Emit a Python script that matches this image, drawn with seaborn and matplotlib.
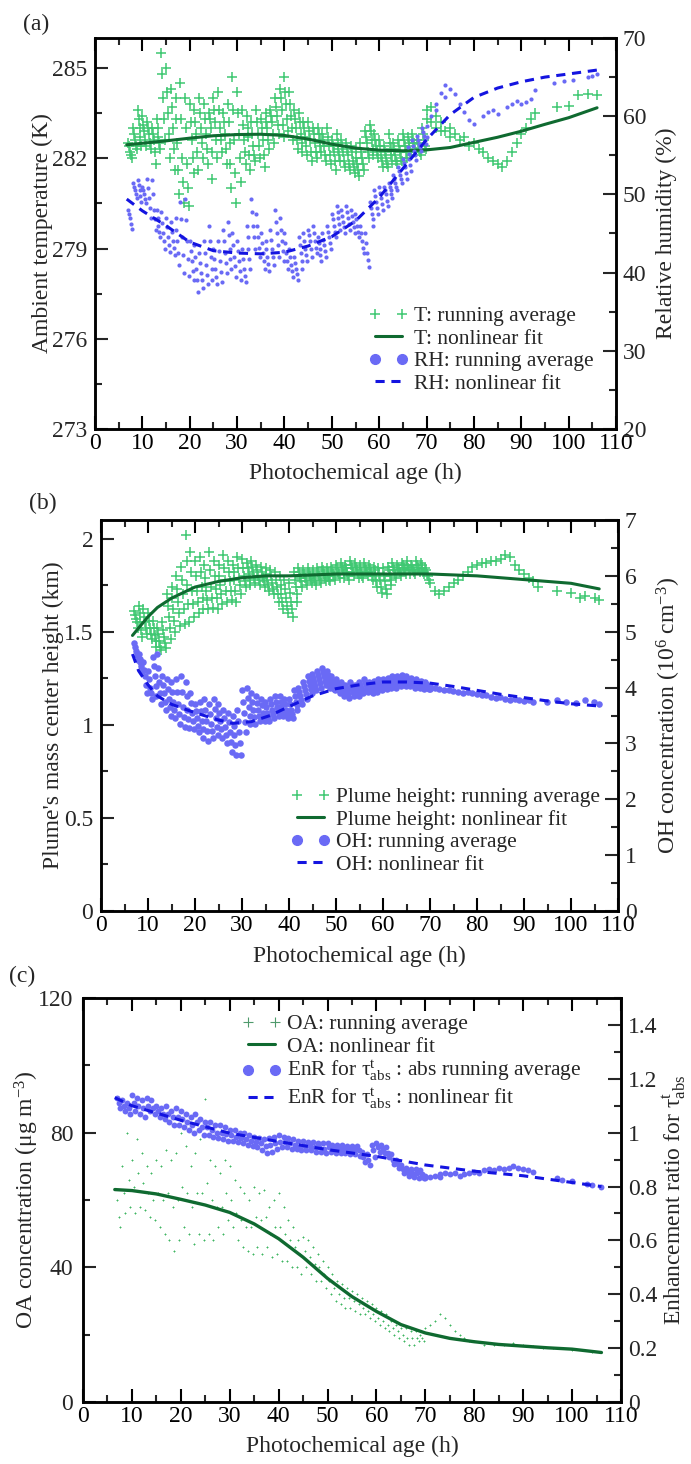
import numpy as np
import pandas as pd
import matplotlib
matplotlib.use("Agg")
import matplotlib.pyplot as plt
import seaborn as sns
from matplotlib.lines import Line2D
from matplotlib.ticker import MultipleLocator, FuncFormatter

sns.set_style("ticks")
plt.rcParams["font.family"] = ["Liberation Serif", "DejaVu Serif"]
plt.rcParams["mathtext.fontset"] = "custom"
plt.rcParams["mathtext.rm"] = "Liberation Serif"
plt.rcParams["mathtext.it"] = "Liberation Serif:italic"
plt.rcParams["mathtext.bf"] = "Liberation Serif:bold"

# ---------------------------------------------------------------- data
# hourly bins (photochemical age, h) of the running averages, from high to low values
HOURS = list(range(7, 70))

T_hi = [282.5, 283.0, 283.6, 283.4, 283.2, 283.0, 283.3, 285.5, 285.0, 284.3,
        284.0, 284.5, 284.0, 283.8, 283.6, 284.0, 283.8, 283.5, 284.0, 284.2,
        283.5, 283.8, 284.7, 284.2, 283.6, 283.4, 283.2, 283.6, 283.3, 283.5,
        283.6, 284.0, 284.3, 284.7, 284.2, 283.6, 283.5, 283.2, 283.2, 283.0,
        283.0, 282.8, 283.0, 282.6, 282.8, 282.6, 282.5, 282.4, 282.3, 282.5,
        282.9, 283.1, 282.8, 282.6, 282.4, 282.8, 282.5, 282.6, 282.8, 282.7,
        282.8, 282.6, 283.0]
T_q1 = [282.4, 282.8, 283.3, 283.1, 283.0, 282.8, 283.0, 284.8, 284.2, 283.7,
        283.3, 283.3, 283.0, 283.2, 283.2, 283.5, 283.3, 283.3, 283.6, 283.6,
        283.2, 283.2, 283.6, 283.5, 283.1, 283.0, 282.8, 283.2, 283.0, 283.2,
        283.4, 283.7, 284.0, 284.2, 283.8, 283.3, 283.2, 283.0, 282.9, 282.8,
        282.8, 282.6, 282.7, 282.4, 282.5, 282.4, 282.3, 282.2, 282.0, 282.2,
        282.7, 282.9, 282.6, 282.4, 282.2, 282.5, 282.3, 282.4, 282.6, 282.5,
        282.6, 282.5, 282.8]
T_mid = [282.2, 282.6, 283.0, 282.9, 282.8, 282.6, 282.7, 284.0, 283.5, 283.0,
         282.5, 282.0, 281.8, 282.6, 282.8, 283.0, 282.8, 283.0, 283.2, 283.0,
         282.8, 282.5, 282.6, 282.8, 282.6, 282.7, 282.4, 282.8, 282.6, 283.0,
         283.2, 283.4, 283.6, 283.8, 283.4, 283.0, 282.8, 282.7, 282.6, 282.5,
         282.6, 282.4, 282.4, 282.2, 282.3, 282.2, 282.1, 281.9, 281.8, 282.0,
         282.5, 282.6, 282.4, 282.1, 282.0, 282.3, 282.1, 282.2, 282.4, 282.4,
         282.5, 282.3, 282.6]
T_q3 = [282.1, 282.4, 282.7, 282.6, 282.5, 282.2, 282.5, 283.3, 282.8, 282.3,
        281.6, 281.2, 281.0, 282.0, 282.2, 282.5, 282.3, 282.2, 282.6, 282.6,
        282.3, 281.8, 281.5, 282.0, 282.2, 282.1, 282.1, 282.4, 282.1, 282.6,
        282.8, 283.1, 283.1, 283.3, 283.0, 282.6, 282.5, 282.4, 282.2, 282.2,
        282.4, 282.1, 282.1, 281.9, 282.1, 281.9, 281.8, 281.7, 281.6, 281.8,
        282.2, 282.3, 282.2, 281.9, 281.8, 282.1, 281.9, 282.0, 282.2, 282.2,
        282.3, 282.2, 282.4]
T_lo = [282.0, 282.3, 282.4, 282.4, 282.3, 281.8, 282.3, 282.6, 282.0, 281.6,
        280.8, 280.5, 280.4, 281.5, 281.6, 282.0, 281.8, 281.3, 282.0, 282.2,
        281.8, 281.0, 280.5, 281.2, 281.8, 281.6, 281.9, 282.0, 281.7, 282.3,
        282.5, 282.8, 282.7, 282.9, 282.6, 282.3, 282.2, 282.1, 281.9, 282.0,
        282.2, 281.9, 281.8, 281.6, 281.9, 281.7, 281.6, 281.5, 281.4, 281.6,
        282.0, 282.1, 282.0, 281.7, 281.7, 281.9, 281.8, 281.9, 282.0, 282.1,
        282.2, 282.1, 282.3]
T_tail_age = [70, 70, 71, 71, 72, 72, 73, 73, 74, 75, 75, 76, 77, 78, 79, 80, 81,
              82, 83, 84, 85, 86, 87, 88, 89, 90, 91, 92, 93, 97.5, 100, 102, 104, 106]
T_tail = [283.3, 283.6, 283.7, 283.2, 283.4, 283.0, 283.2, 282.9, 282.9, 283.0,
          282.7, 282.8, 282.6, 282.7, 282.4, 282.5, 282.3, 282.2, 282.0, 281.9,
          281.8, 281.7, 281.9, 282.2, 282.5, 282.8, 283.0, 283.3, 283.5, 283.7,
          283.75, 284.1, 284.15, 284.1]

RH_hi = [48.0, 51.5, 51.9, 51.0, 52.0, 51.9, 48.0, 47.7, 47.0, 46.5,
         47.0, 49.0, 49.4, 44.0, 43.5, 42.5, 44.0, 46.0, 43.0, 44.0,
         45.5, 46.5, 45.0, 44.0, 43.0, 46.0, 49.4, 47.5, 45.0, 44.0,
         45.5, 48.0, 47.0, 45.0, 43.0, 42.0, 44.5, 45.0, 45.5, 46.0,
         44.5, 45.0, 46.0, 47.5, 48.5, 48.0, 48.5, 48.0, 47.5, 46.0,
         45.0, 49.0, 50.5, 51.0, 51.0, 51.5, 52.5, 53.5, 54.5, 56.0,
         57.0, 57.5, 58.5]
RH_q1 = [47.5, 51.0, 51.2, 50.5, 50.8, 50.0, 47.0, 46.3, 45.8, 45.2,
         45.5, 46.8, 46.7, 42.8, 42.0, 41.2, 42.5, 44.0, 41.8, 42.8,
         44.0, 44.8, 43.5, 42.8, 41.8, 44.5, 47.7, 46.0, 43.8, 43.0,
         44.2, 46.5, 45.5, 43.8, 42.0, 41.2, 43.5, 44.0, 44.8, 45.0,
         43.8, 44.2, 45.2, 46.8, 47.8, 47.2, 47.8, 47.2, 46.8, 45.0,
         43.8, 48.2, 49.8, 50.2, 50.5, 51.0, 52.0, 53.0, 54.0, 55.2,
         56.2, 57.0, 58.0]
RH_mid = [47.0, 50.5, 50.5, 50.0, 49.5, 48.0, 46.0, 45.0, 44.5, 44.0,
          44.0, 44.5, 44.0, 41.5, 40.5, 40.0, 41.0, 42.0, 40.5, 41.5,
          42.5, 43.0, 42.0, 41.5, 40.5, 43.0, 46.0, 44.5, 42.5, 42.0,
          43.0, 45.0, 44.0, 42.5, 41.0, 40.5, 42.5, 43.0, 44.0, 44.0,
          43.0, 43.5, 44.5, 46.0, 47.0, 46.5, 47.0, 46.5, 46.0, 44.0,
          42.5, 47.5, 49.0, 49.5, 50.0, 50.5, 51.5, 52.5, 53.5, 54.5,
          55.5, 56.5, 57.5]
RH_q3 = [46.2, 50.0, 49.8, 49.4, 48.2, 46.8, 45.2, 44.0, 43.5, 43.1,
         42.5, 42.2, 41.8, 40.2, 39.0, 39.0, 39.7, 40.5, 39.5, 40.1,
         41.2, 41.8, 40.8, 40.2, 39.6, 41.8, 44.5, 43.2, 41.5, 41.1,
         42.0, 43.5, 42.8, 41.5, 40.2, 39.8, 41.5, 42.2, 43.0, 43.2,
         42.2, 42.8, 43.8, 45.2, 46.2, 45.8, 46.2, 45.8, 45.2, 43.2,
         41.6, 46.8, 48.2, 48.8, 49.2, 50.0, 51.0, 52.0, 52.8, 53.8,
         55.0, 56.0, 57.0]
RH_lo = [45.6, 49.5, 49.0, 48.9, 47.0, 45.5, 44.5, 43.0, 42.6, 42.2,
         41.0, 40.0, 39.6, 39.0, 37.5, 38.0, 38.5, 39.0, 38.5, 38.8,
         40.0, 40.5, 39.5, 39.0, 38.8, 40.5, 43.0, 42.0, 40.5, 40.2,
         41.0, 42.0, 41.5, 40.5, 39.5, 39.0, 40.5, 41.5, 42.0, 42.5,
         41.5, 42.0, 43.0, 44.5, 45.5, 45.0, 45.5, 45.0, 44.5, 42.5,
         40.7, 46.0, 47.5, 48.0, 48.5, 49.5, 50.5, 51.5, 52.0, 53.0,
         54.4, 55.5, 56.5]
RH_tail_age = [70, 70, 71, 72, 72, 73, 74, 74, 75, 76, 77, 78, 79, 80, 82, 83,
               84, 85, 87, 88, 89, 90, 91, 92, 93, 97, 99, 101, 104, 105, 106]
RH_tail = [58.7, 57.4, 60.0, 61.6, 60.8, 63.0, 64.0, 62.5, 63.5, 62.9, 61.5,
           60.5, 59.5, 59.0, 60.0, 60.5, 60.8, 60.3, 61.2, 61.6, 62.0, 61.5,
           61.8, 62.2, 63.3, 64.2, 64.5, 64.6, 65.0, 65.2, 65.4]

PH_hi = [1.61, 1.64, 1.62, 1.60, 1.56, 1.52, 1.55, 1.70, 1.74, 1.80,
         1.85, 2.02, 1.93, 1.88, 1.90, 1.86, 1.93, 1.88, 1.86, 1.91,
         1.88, 1.86, 1.90, 1.89, 1.87, 1.88, 1.86, 1.85, 1.84, 1.83,
         1.82, 1.80, 1.78, 1.76, 1.82, 1.84, 1.83, 1.84, 1.83, 1.84,
         1.85, 1.84, 1.85, 1.86, 1.87, 1.86, 1.88, 1.87, 1.86, 1.87,
         1.86, 1.85, 1.84, 1.84, 1.85, 1.87, 1.86, 1.87, 1.88, 1.86,
         1.88, 1.87, 1.84]
PH_q1 = [1.59, 1.60, 1.58, 1.56, 1.52, 1.49, 1.51, 1.64, 1.68, 1.73,
         1.78, 1.88, 1.82, 1.80, 1.82, 1.79, 1.83, 1.80, 1.80, 1.84,
         1.82, 1.82, 1.84, 1.84, 1.84, 1.85, 1.83, 1.82, 1.81, 1.80,
         1.78, 1.75, 1.73, 1.71, 1.78, 1.82, 1.81, 1.82, 1.81, 1.82,
         1.83, 1.82, 1.83, 1.84, 1.85, 1.84, 1.86, 1.85, 1.84, 1.85,
         1.84, 1.83, 1.81, 1.80, 1.83, 1.85, 1.84, 1.86, 1.86, 1.85,
         1.86, 1.86, 1.83]
PH_mid = [1.57, 1.55, 1.55, 1.52, 1.48, 1.45, 1.47, 1.58, 1.62, 1.66,
          1.70, 1.75, 1.72, 1.72, 1.74, 1.72, 1.74, 1.73, 1.75, 1.78,
          1.77, 1.78, 1.79, 1.80, 1.81, 1.82, 1.80, 1.79, 1.78, 1.76,
          1.74, 1.70, 1.68, 1.66, 1.74, 1.79, 1.79, 1.80, 1.79, 1.80,
          1.81, 1.80, 1.81, 1.82, 1.83, 1.82, 1.84, 1.83, 1.82, 1.83,
          1.82, 1.80, 1.78, 1.77, 1.80, 1.83, 1.83, 1.84, 1.84, 1.83,
          1.84, 1.84, 1.81]
PH_q3 = [1.55, 1.51, 1.52, 1.49, 1.45, 1.42, 1.44, 1.52, 1.56, 1.60,
         1.62, 1.65, 1.65, 1.66, 1.68, 1.67, 1.68, 1.68, 1.70, 1.72,
         1.72, 1.72, 1.75, 1.77, 1.78, 1.79, 1.78, 1.77, 1.75, 1.73,
         1.70, 1.66, 1.64, 1.62, 1.70, 1.77, 1.77, 1.78, 1.77, 1.78,
         1.79, 1.78, 1.80, 1.81, 1.81, 1.80, 1.82, 1.81, 1.80, 1.82,
         1.80, 1.77, 1.74, 1.73, 1.78, 1.81, 1.82, 1.83, 1.83, 1.82,
         1.83, 1.82, 1.80]
PH_lo = [1.52, 1.47, 1.49, 1.46, 1.42, 1.40, 1.41, 1.46, 1.50, 1.53,
         1.54, 1.55, 1.58, 1.60, 1.62, 1.62, 1.63, 1.62, 1.65, 1.66,
         1.67, 1.66, 1.70, 1.74, 1.75, 1.76, 1.75, 1.74, 1.72, 1.70,
         1.66, 1.62, 1.60, 1.58, 1.66, 1.74, 1.75, 1.76, 1.75, 1.76,
         1.77, 1.77, 1.78, 1.79, 1.79, 1.78, 1.80, 1.79, 1.79, 1.80,
         1.78, 1.74, 1.71, 1.70, 1.75, 1.79, 1.80, 1.81, 1.81, 1.81,
         1.82, 1.81, 1.78]
PH_tail_age = [70, 71, 72, 73, 74, 75, 76, 77, 78, 79, 80, 81, 82, 83, 84, 85,
               86, 87, 88, 89, 90, 91, 92, 93, 97, 100, 102, 103, 105, 106]
PH_tail = [1.76, 1.72, 1.70, 1.72, 1.74, 1.76, 1.78, 1.80, 1.82, 1.85, 1.86,
           1.87, 1.87, 1.88, 1.88, 1.89, 1.91, 1.90, 1.86, 1.83, 1.81, 1.79,
           1.77, 1.74, 1.72, 1.71, 1.68, 1.69, 1.68, 1.67]

OH_hi = [4.80, 4.60, 4.45, 4.30, 4.55, 4.60, 4.20, 4.15, 4.10, 4.15,
         4.20, 4.10, 3.90, 3.70, 3.75, 3.80, 3.70, 3.80, 3.70, 3.60,
         3.55, 3.50, 3.60, 3.95, 4.00, 3.90, 3.85, 3.80, 3.75, 3.80,
         3.85, 3.85, 3.80, 3.80, 3.95, 4.00, 4.10, 4.20, 4.25, 4.30,
         4.35, 4.30, 4.20, 4.15, 4.10, 4.05, 4.10, 4.05, 4.10, 4.15,
         4.10, 4.12, 4.15, 4.15, 4.18, 4.20, 4.20, 4.22, 4.20, 4.18,
         4.15, 4.12, 4.10]
OH_q1 = [4.72, 4.52, 4.32, 4.15, 4.38, 4.35, 4.05, 3.98, 3.92, 3.92,
         3.92, 3.85, 3.72, 3.58, 3.58, 3.60, 3.52, 3.62, 3.55, 3.45,
         3.38, 3.32, 3.40, 3.75, 3.82, 3.75, 3.72, 3.68, 3.65, 3.70,
         3.75, 3.75, 3.70, 3.70, 3.85, 3.92, 4.02, 4.12, 4.18, 4.22,
         4.28, 4.22, 4.12, 4.08, 4.04, 4.00, 4.04, 4.00, 4.05, 4.10,
         4.05, 4.07, 4.10, 4.10, 4.13, 4.15, 4.16, 4.17, 4.15, 4.14,
         4.12, 4.08, 4.06]
OH_mid = [4.65, 4.45, 4.20, 4.00, 4.20, 4.10, 3.90, 3.80, 3.75, 3.70,
          3.65, 3.60, 3.55, 3.45, 3.40, 3.40, 3.35, 3.45, 3.40, 3.30,
          3.20, 3.15, 3.20, 3.55, 3.65, 3.60, 3.60, 3.55, 3.55, 3.60,
          3.65, 3.65, 3.60, 3.60, 3.75, 3.85, 3.95, 4.05, 4.10, 4.15,
          4.20, 4.15, 4.05, 4.00, 3.98, 3.95, 3.98, 3.95, 4.00, 4.05,
          4.00, 4.02, 4.05, 4.05, 4.08, 4.10, 4.12, 4.12, 4.10, 4.10,
          4.08, 4.05, 4.03]
OH_q3 = [4.58, 4.38, 4.05, 3.90, 4.02, 3.90, 3.75, 3.65, 3.60, 3.52,
         3.48, 3.43, 3.40, 3.32, 3.25, 3.22, 3.22, 3.30, 3.25, 3.15,
         3.02, 2.98, 3.00, 3.38, 3.50, 3.48, 3.50, 3.48, 3.48, 3.52,
         3.58, 3.58, 3.52, 3.52, 3.68, 3.78, 3.88, 3.98, 4.02, 4.08,
         4.12, 4.08, 3.98, 3.95, 3.92, 3.88, 3.92, 3.90, 3.95, 3.98,
         3.95, 3.97, 4.00, 4.02, 4.04, 4.05, 4.07, 4.07, 4.06, 4.05,
         4.04, 4.02, 4.00]
OH_lo = [4.50, 4.30, 3.90, 3.80, 3.85, 3.70, 3.60, 3.50, 3.45, 3.35,
         3.30, 3.27, 3.25, 3.20, 3.10, 3.05, 3.10, 3.15, 3.10, 3.00,
         2.85, 2.80, 2.80, 3.20, 3.35, 3.35, 3.40, 3.40, 3.40, 3.45,
         3.50, 3.50, 3.45, 3.45, 3.60, 3.70, 3.80, 3.90, 3.95, 4.00,
         4.05, 4.00, 3.95, 3.90, 3.85, 3.82, 3.85, 3.85, 3.90, 3.92,
         3.90, 3.92, 3.95, 3.98, 4.00, 4.00, 4.02, 4.02, 4.02, 4.00,
         4.00, 3.98, 3.97]
OH_tail_age = [70, 70, 71, 72, 73, 74, 75, 76, 77, 78, 79, 80, 81, 82, 83, 84,
               85, 86, 87, 88, 89, 90, 91, 92, 95, 97, 99, 101, 103, 105, 106]
OH_tail = [4.03, 3.98, 4.00, 3.98, 3.95, 3.96, 3.93, 3.92, 3.90, 3.92, 3.90,
           3.88, 3.87, 3.86, 3.84, 3.82, 3.84, 3.80, 3.78, 3.80, 3.78, 3.76,
           3.78, 3.75, 3.74, 3.77, 3.75, 3.72, 3.78, 3.74, 3.70]

OA_hi = [60, 70, 80, 72, 78, 74, 70, 68, 72, 70,
         75, 72, 74, 80, 76, 70, 74, 78, 90, 72,
         70, 68, 72, 70, 66, 64, 62, 60, 64, 62,
         63, 58, 60, 62, 58, 54, 52, 48, 49, 48,
         46, 44, 42, 40, 38, 36, 35, 34, 33, 32,
         31, 30, 29, 28, 27, 26, 24, 23, 22, 22,
         21, 21, 20]
OA_mid = [55, 62, 66, 64, 68, 65, 62, 60, 62, 60,
          62, 58, 60, 64, 62, 58, 62, 62, 65, 60,
          58, 58, 62, 60, 56, 54, 52, 52, 55, 54,
          55, 50, 52, 52, 50, 48, 46, 44, 45, 43,
          41, 40, 38, 36, 34, 32, 31, 31, 30, 29,
          28, 27, 26, 25, 24, 23, 22, 21, 20, 19,
          19, 19, 19]
OA_lo = [52, 56, 58, 56, 58, 57, 55, 54, 52, 50,
         48, 45, 48, 52, 50, 47, 50, 48, 50, 48,
         52, 50, 54, 52, 48, 46, 45, 44, 46, 44,
         46, 43, 44, 42, 42, 40, 40, 38, 40, 38,
         36, 36, 34, 32, 30, 29, 28, 28, 27, 26,
         26, 25, 24, 23, 22, 21, 20, 19, 18, 17,
         17, 18, 18]
OA_tail_age = [70, 71, 72, 73, 74, 75, 76, 77, 78, 79, 80, 82, 84, 86, 88, 90,
               92, 94, 96, 98, 100, 102, 104]
OA_tail = [22, 23, 24, 26, 25, 23, 21, 20, 19, 18, 18, 17, 17, 17, 17.5, 17,
           16.5, 16, 16, 16, 15.5, 15.5, 15]

EN_hi = [1.13, 1.12, 1.11, 1.14, 1.13, 1.12, 1.13, 1.12, 1.10, 1.09,
         1.10, 1.08, 1.09, 1.08, 1.07, 1.06, 1.07, 1.05, 1.04, 1.04,
         1.03, 1.03, 1.02, 1.01, 1.01, 1.00, 1.00, 0.99, 0.985, 0.98,
         0.975, 0.98, 0.985, 0.99, 0.985, 0.98, 0.975, 0.97, 0.97, 0.965,
         0.965, 0.96, 0.96, 0.96, 0.955, 0.955, 0.955, 0.95, 0.95, 0.95,
         0.93, 0.92, 0.955, 0.96, 0.955, 0.945, 0.92, 0.90, 0.88, 0.87,
         0.865, 0.865, 0.86]
EN_mid = [1.11, 1.10, 1.09, 1.11, 1.10, 1.09, 1.10, 1.09, 1.08, 1.07,
          1.07, 1.06, 1.06, 1.05, 1.04, 1.03, 1.04, 1.02, 1.02, 1.01,
          1.00, 1.00, 0.995, 0.99, 0.985, 0.98, 0.975, 0.97, 0.965, 0.96,
          0.95, 0.955, 0.96, 0.965, 0.965, 0.96, 0.955, 0.95, 0.95, 0.95,
          0.945, 0.945, 0.94, 0.945, 0.94, 0.94, 0.94, 0.935, 0.935, 0.935,
          0.91, 0.90, 0.935, 0.945, 0.94, 0.925, 0.90, 0.885, 0.865, 0.855,
          0.85, 0.85, 0.845]
EN_lo = [1.09, 1.08, 1.07, 1.08, 1.07, 1.06, 1.08, 1.07, 1.06, 1.05,
         1.04, 1.03, 1.03, 1.02, 1.01, 1.00, 1.01, 0.99, 0.99, 0.985,
         0.98, 0.975, 0.97, 0.97, 0.965, 0.96, 0.955, 0.95, 0.945, 0.935,
         0.925, 0.93, 0.94, 0.945, 0.945, 0.94, 0.94, 0.935, 0.935, 0.935,
         0.93, 0.93, 0.925, 0.93, 0.925, 0.925, 0.925, 0.92, 0.92, 0.915,
         0.89, 0.88, 0.91, 0.93, 0.925, 0.91, 0.885, 0.87, 0.85, 0.84,
         0.835, 0.83, 0.83]
EN_tail_age = [70, 70, 71, 72, 73, 73, 74, 75, 76, 77, 78, 79, 80, 81, 82, 83,
               84, 85, 86, 87, 88, 89, 90, 91, 92, 97, 98, 100, 103, 104, 106]
EN_tail = [0.84, 0.83, 0.835, 0.84, 0.845, 0.835, 0.85, 0.845, 0.85, 0.84,
           0.845, 0.85, 0.855, 0.85, 0.86, 0.865, 0.86, 0.87, 0.865, 0.87,
           0.875, 0.87, 0.865, 0.86, 0.855, 0.83, 0.825, 0.82, 0.81, 0.805, 0.80]

# nonlinear fits
T_FIT_AGE = [6.7, 10, 15, 20, 25, 30, 35, 40, 45, 50, 55, 60, 65, 70, 75, 80,
             85, 90, 95, 100, 106]
T_FIT = [282.45, 282.5, 282.58, 282.67, 282.75, 282.79, 282.8, 282.76, 282.64,
         282.47, 282.34, 282.27, 282.25, 282.28, 282.36, 282.53, 282.7, 282.9,
         283.13, 283.35, 283.68]
RH_FIT = [49.4, 47.9, 46.0, 43.9, 42.8, 42.5, 42.4, 42.6, 43.4, 44.6, 46.6,
          49.6, 53.3, 57.0, 60.2, 62.4, 63.6, 64.4, 65.0, 65.4, 65.9]
PH_FIT_AGE = [6.7, 8, 10, 12, 15, 20, 25, 30, 35, 40, 50, 60, 70, 80, 90, 95, 100, 106]
PH_FIT = [1.48, 1.52, 1.58, 1.63, 1.68, 1.74, 1.77, 1.79, 1.80, 1.80, 1.81,
          1.81, 1.81, 1.80, 1.78, 1.77, 1.76, 1.73]
OH_FIT_AGE = [6.7, 8, 10, 12, 15, 20, 25, 28, 32, 36, 40, 45, 50, 55, 60, 65,
              70, 75, 80, 85, 90, 95, 100, 106]
OH_FIT = [4.6, 4.3, 4.05, 3.85, 3.7, 3.55, 3.42, 3.36, 3.39, 3.5, 3.66, 3.85,
          3.98, 4.05, 4.1, 4.1, 4.08, 4.02, 3.95, 3.88, 3.82, 3.76, 3.71, 3.67]
OA_FIT_AGE = [6.5, 10, 15, 20, 25, 30, 35, 40, 45, 50, 55, 60, 65, 70, 75, 80,
              85, 90, 95, 100, 106]
OA_FIT = [63.1, 62.8, 61.8, 60.2, 58.5, 56.3, 52.9, 48.5, 43.0, 36.7, 31.3,
          26.9, 23.0, 20.5, 18.9, 17.9, 17.1, 16.6, 16.1, 15.7, 14.7]
EN_FIT_AGE = [6.5, 10, 20, 30, 40, 50, 60, 70, 80, 90, 100, 106]
EN_FIT = [1.13, 1.10, 1.046, 0.998, 0.967, 0.937, 0.912, 0.88, 0.857, 0.84,
          0.815, 0.80]

# ---------------------------------------------------------------- styling
C_T = "#3fc872"
C_TFIT = "#0f6a30"
C_RH = "#6a6af5"
C_RHFIT = "#1414e0"
C_OA = "#3fb561"
C_OALEG = "#4f9a6c"
FS_TICK = 17
FS_LAB = 17
FS_LEG = 15.5
DASH = (0, (3, 2.2))


def running_frame(rows, tail_age, tail_val):
    """Stack the hourly rows and the sparse tail into one long frame."""
    step = 1.0 / len(rows)
    ages, vals = [], []
    for k, row in enumerate(rows):
        ages += [h + step * k for h in HOURS]
        vals += list(row)
    ages += list(tail_age)
    vals += list(tail_val)
    return pd.DataFrame({"age": ages, "val": vals})


def style_pair(ax, ax2, ylim, ymaj, ymin, ylim2, y2maj, y2min, lpad=5.5):
    fmt = FuncFormatter(lambda v, p: f"{v:g}")
    ax.set_xlim(0, 110)
    ax.xaxis.set_major_locator(MultipleLocator(10))
    ax.xaxis.set_minor_locator(MultipleLocator(5))
    ax.set_ylim(*ylim)
    ax.yaxis.set_major_locator(MultipleLocator(ymaj))
    ax.yaxis.set_minor_locator(MultipleLocator(ymin))
    ax.yaxis.set_major_formatter(fmt)
    ax2.set_ylim(*ylim2)
    ax2.yaxis.set_major_locator(MultipleLocator(y2maj))
    ax2.yaxis.set_minor_locator(MultipleLocator(y2min))
    ax2.yaxis.set_major_formatter(fmt)
    for a in (ax, ax2):
        for sp in a.spines.values():
            sp.set_linewidth(1.8)
            sp.set_color("black")
    ax.tick_params(axis="x", which="major", direction="in", length=9.5, width=1.5,
                   top=True, bottom=True, labelsize=FS_TICK, pad=3, colors="black")
    ax.tick_params(axis="x", which="minor", direction="in", length=5, width=1.5,
                   top=True, bottom=True)
    ax.tick_params(axis="y", which="major", direction="in", length=9.5, width=1.5,
                   left=True, right=False, labelsize=FS_TICK, pad=lpad)
    ax.tick_params(axis="y", which="minor", direction="in", length=5, width=1.5,
                   left=True, right=False)
    ax2.tick_params(axis="y", which="major", direction="in", length=9.5, width=1.5,
                    right=True, left=False, labelsize=FS_TICK, pad=5)
    ax2.tick_params(axis="y", which="minor", direction="in", length=5, width=1.5,
                    right=True, left=False)
    ax.set_xlabel("Photochemical age (h)", fontsize=FS_LAB)
    ax.grid(False)
    ax2.grid(False)


def add_legend(ax, handles, labels, x_px, y_px):
    ax.legend(handles, labels, loc="upper left",
              bbox_to_anchor=(x_px / 691, 1 - y_px / 1464),
              bbox_transform=fig.transFigure, frameon=False, fontsize=FS_LEG,
              numpoints=2, handlelength=1.85, handletextpad=0.25,
              labelspacing=0.12, borderpad=0, borderaxespad=0)


def std_handles(plus_color, plus_mew=1.1):
    return [Line2D([], [], ls="none", marker="+", ms=7, mew=plus_mew, color=plus_color),
            Line2D([], [], color=C_TFIT, lw=2.2),
            Line2D([], [], ls="none", marker="o", ms=7, color=C_RH),
            Line2D([], [], color=C_RHFIT, lw=2.2, ls=DASH)]


fig = plt.figure(figsize=(6.91, 14.64), dpi=100)
ax_a = fig.add_axes([95 / 691, 1 - 429 / 1464, 521 / 691, 391 / 1464])
ax_b = fig.add_axes([101 / 691, 1 - 911 / 1464, 517 / 691, 391 / 1464])
ax_c = fig.add_axes([83 / 691, 1 - 1402 / 1464, 538 / 691, 404 / 1464])

# ---------------------------------------------------------------- (a)
ax_a2 = ax_a.twinx()
t_df = running_frame([T_hi, T_q1, T_mid, T_q3, T_lo], T_tail_age, T_tail)
rh_df = running_frame([RH_hi, RH_q1, RH_mid, RH_q3, RH_lo], RH_tail_age, RH_tail)
sns.scatterplot(data=t_df, x="age", y="val", ax=ax_a, marker="+", s=42,
                color=C_T, linewidth=1.1, legend=False, zorder=2)
sns.lineplot(x=T_FIT_AGE, y=T_FIT, ax=ax_a, color=C_TFIT, linewidth=2.2,
             zorder=3, legend=False)
sns.scatterplot(data=rh_df, x="age", y="val", ax=ax_a2, marker="o", s=9,
                color=C_RH, linewidth=0, legend=False, zorder=2)
sns.lineplot(x=T_FIT_AGE, y=RH_FIT, ax=ax_a2, color=C_RHFIT, linewidth=2.2,
             linestyle=DASH, zorder=3, legend=False)
style_pair(ax_a, ax_a2, (273, 286), 3, 1.5, (20, 70), 10, 5)
ax_a.set_ylabel("Ambient temperature (K)", fontsize=FS_LAB)
ax_a2.set_ylabel("Relative humidity (%)", fontsize=FS_LAB)
ax_a.yaxis.set_label_coords(-0.081, 0.5)
ax_a2.yaxis.set_label_coords(1.077, 0.5)
ax_a.xaxis.set_label_coords(0.5, -0.087)
add_legend(ax_a2, std_handles(C_T),
           ["T: running average", "T: nonlinear fit",
            "RH: running average", "RH: nonlinear fit"], 369, 306)
fig.text(36 / 691, 1 - 24 / 1464, "(a)", fontsize=FS_LAB, ha="center", va="center")

# ---------------------------------------------------------------- (b)
ax_b2 = ax_b.twinx()
ph_df = running_frame([PH_hi, PH_q1, PH_mid, PH_q3, PH_lo], PH_tail_age, PH_tail)
oh_df = running_frame([OH_hi, OH_q1, OH_mid, OH_q3, OH_lo], OH_tail_age, OH_tail)
sns.scatterplot(data=ph_df, x="age", y="val", ax=ax_b, marker="+", s=42,
                color=C_T, linewidth=1.1, legend=False, zorder=2)
sns.lineplot(x=PH_FIT_AGE, y=PH_FIT, ax=ax_b, color=C_TFIT, linewidth=2.2,
             zorder=3, legend=False)
sns.scatterplot(data=oh_df, x="age", y="val", ax=ax_b2, marker="o", s=22,
                color=C_RH, linewidth=0, legend=False, zorder=2)
sns.lineplot(x=OH_FIT_AGE, y=OH_FIT, ax=ax_b2, color=C_RHFIT, linewidth=2.2,
             linestyle=DASH, zorder=3, legend=False)
style_pair(ax_b, ax_b2, (0, 2.1), 0.5, 0.25, (0, 7), 1, 0.5)
ax_b.set_ylabel("Plume's mass center height (km)", fontsize=FS_LAB)
ax_b2.set_ylabel("OH concentration (10$^{6}$ cm$^{-3}$)", fontsize=FS_LAB)
ax_b.yaxis.set_label_coords(-0.0716, 0.5)
ax_b2.yaxis.set_label_coords(1.0716, 0.5)
ax_b.xaxis.set_label_coords(0.5, -0.0895)
add_legend(ax_b2, std_handles(C_T),
           ["Plume height: running average", "Plume height: nonlinear fit",
            "OH: running average", "OH: nonlinear fit"], 291, 787)
fig.text(43 / 691, 1 - 503 / 1464, "(b)", fontsize=FS_LAB, ha="center", va="center")

# ---------------------------------------------------------------- (c)
ax_c2 = ax_c.twinx()
oa_df = running_frame([OA_hi, OA_mid, OA_lo], OA_tail_age, OA_tail)
en_df = running_frame([EN_hi, EN_mid, EN_lo], EN_tail_age, EN_tail)
sns.scatterplot(data=oa_df, x="age", y="val", ax=ax_c, marker="+", s=4,
                color=C_OA, linewidth=0.7, legend=False, zorder=2)
sns.lineplot(x=OA_FIT_AGE, y=OA_FIT, ax=ax_c, color=C_TFIT, linewidth=2.4,
             zorder=3, legend=False)
sns.scatterplot(data=en_df, x="age", y="val", ax=ax_c2, marker="o", s=18,
                color=C_RH, linewidth=0, legend=False, zorder=2)
sns.lineplot(x=EN_FIT_AGE, y=EN_FIT, ax=ax_c2, color=C_RHFIT, linewidth=2.2,
             linestyle=DASH, zorder=3, legend=False)
style_pair(ax_c, ax_c2, (0, 120), 40, 20, (0, 1.5), 0.2, 0.1, lpad=7)
ax_c.set_ylabel("OA concentration (μg m$^{-3}$)", fontsize=FS_LAB)
ax_c2.set_ylabel("Enhancement ratio for τ$^{\\mathrm{t}}_{\\mathrm{abs}}$", fontsize=FS_LAB)
ax_c.yaxis.set_label_coords(-0.078, 0.5)
ax_c2.yaxis.set_label_coords(1.072, 0.5)
ax_c.xaxis.set_label_coords(0.5, -0.084)
add_legend(ax_c2, std_handles(C_OALEG, 0.8),
           ["OA: running average", "OA: nonlinear fit",
            "EnR for τ$^{\\mathrm{t}}_{\\mathrm{abs}}$ : abs running average",
            "EnR for τ$^{\\mathrm{t}}_{\\mathrm{abs}}$ : nonlinear fit"], 242, 1014)
fig.text(22 / 691, 1 - 976 / 1464, "(c)", fontsize=FS_LAB, ha="center", va="center")

fig.savefig("out.png", dpi=100)
